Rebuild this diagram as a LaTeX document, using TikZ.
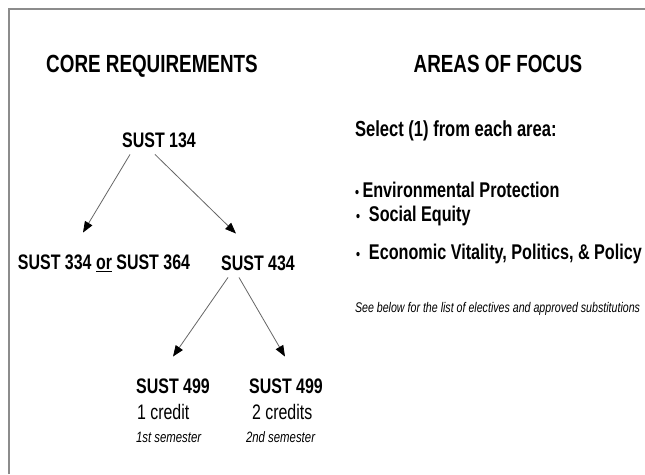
\documentclass[tikz,border=0pt]{standalone}
\usepackage{fontspec}
\setmainfont{Liberation Sans}[FakeStretch=0.76]
\usetikzlibrary{arrows.meta,calc}
\begin{document}
\begin{tikzpicture}[x=1pt,y=-1pt,
  txt/.style={inner sep=0pt,outer sep=0pt,text=black},
  head/.style={txt,font=\fontsize{24.8}{28}\bfseries\selectfont},
  course/.style={txt,font=\fontsize{21}{24}\bfseries\selectfont},
  credit/.style={txt,font=\fontsize{21}{24}\selectfont},
  sem/.style={txt,font=\fontsize{15}{17}\itshape\selectfont},
  area/.style={txt,font=\fontsize{21.3}{24}\bfseries\selectfont,anchor=west},
  arr/.style={draw=black!60,line width=0.8pt,-{Triangle[length=11pt,width=8.5pt,color=black,fill=black]}}]
\useasboundingbox (0,0) rectangle (645,474);
\fill[white] (0,0) rectangle (645,474);
\draw[black!45,line width=2pt] (9,474) -- (9,9) -- (645,9);
% headings
\node[head] (core) at (152,66) {CORE REQUIREMENTS};
\node[head] (focus) at (498,64) {AREAS OF FOCUS};
% core tree
\node[course] (s134) at (159,140) {SUST 134};
\node[course] (s334) at (104,263) {SUST 334 \underline{or} SUST 364};
\node[course] (s434) at (258,263) {SUST 434};
\node[course] (s499a) at (173,386) {SUST 499};
\node[credit,anchor=west] (c1) at (137,412) {1 credit};
\node[sem,anchor=west] (m1) at (136,437) {1st semester};
\node[course] (s499b) at (286,386) {SUST 499};
\node[credit,anchor=west] (c2) at (252,412) {2 credits};
\node[sem,anchor=west] (m2) at (246,437) {2nd semester};
\draw[arr] ($(s134.south)+(-29,7)$) -- ($(s334.north)+(-21,-22)$);
\draw[arr] ($(s134.south)+(-4,7)$) -- ($(s434.north)+(-22,-22)$);
\draw[arr] ($(s434.south)+(-30,7)$) -- ($(s499a.north)+(0,-22)$);
\draw[arr] ($(s434.south)+(-19,7)$) -- ($(s499b.north)+(-1,-22)$);
% areas of focus
\node[txt,font=\fontsize{21.8}{24}\bfseries\selectfont,anchor=west] (sel) at (355,131) {Select (1) from each area:};
\node[area] (env) at (355,190) {{\fontsize{15}{17}\selectfont\textbullet}\,Environmental Protection};
\node[area] (soc) at (356,216) {{\fontsize{15}{17}\selectfont\textbullet}\ \ Social Equity};
\node[area] (eco) at (356,254) {{\fontsize{15}{17}\selectfont\textbullet}\ \ Economic Vitality, Politics, \& Policy};
\node[txt,font=\fontsize{14}{16}\itshape\selectfont,anchor=west] (see) at (355,309) {See below for the list of electives and approved substitutions};
\end{tikzpicture}
\end{document}
